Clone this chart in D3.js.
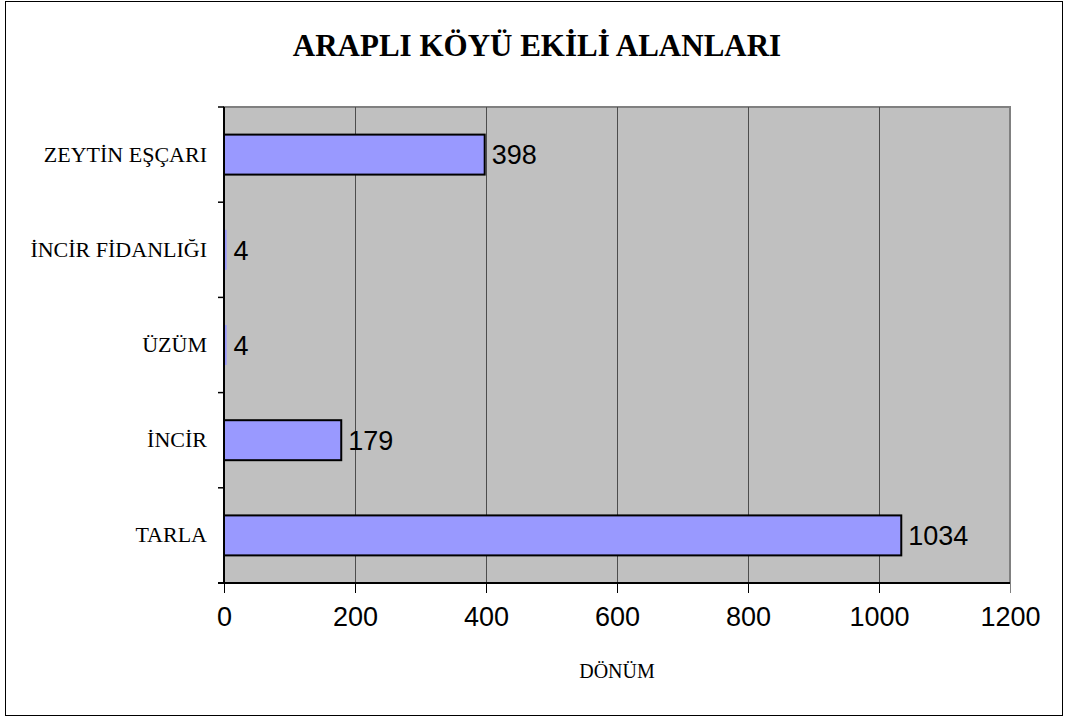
<!DOCTYPE html>
<html>
	<head>
		<meta charset="utf-8">
		<script src="https://d3js.org/d3.v7.min.js"></script>
		<style>
			body { margin: 0; background: #fff; }
		</style>
	</head>
	<body>
		<script>
			// veriler
			var categories = ["ZEYTİN EŞÇARI", "İNCİR FİDANLIĞI", "ÜZÜM", "İNCİR", "TARLA"];
			var values = [398, 4, 4, 179, 1034];
			var xTicks = [0, 200, 400, 600, 800, 1000, 1200];
			var title = "ARAPLI KÖYÜ EKİLİ ALANLARI";
			var xTitle = "DÖNÜM";

			var width = 1066, height = 717;
			var plot = { left: 224, top: 107, right: 1010, bottom: 583 };

			var svg = d3.select("body").append("svg")
				.attr("width", width)
				.attr("height", height);

			// dış çerçeve
			svg.append("rect")
				.attr("x", 5.5).attr("y", 1.5)
				.attr("width", 1057).attr("height", 714)
				.attr("fill", "#fff")
				.attr("stroke", "#000")
				.attr("stroke-width", 1);

			var x = d3.scaleLinear().domain([0, 1200]).range([plot.left, plot.right]);
			var y = d3.scaleBand().domain(categories).range([plot.top, plot.bottom]).paddingInner(0.58).paddingOuter(0.29);
			var yb = d3.scaleBand().domain(categories).range([plot.top, plot.bottom]);

			// çizim alanı
			svg.append("rect")
				.attr("x", plot.left).attr("y", plot.top)
				.attr("width", plot.right - plot.left).attr("height", plot.bottom - plot.top)
				.attr("fill", "#c0c0c0")
				.attr("stroke", "#808080")
				.attr("stroke-width", 2);

			// ızgara
			svg.append("g").selectAll("line")
				.data(xTicks.slice(1, -1))
				.join("line")
				.attr("x1", function(d){ return x(d) + 0.5; })
				.attr("x2", function(d){ return x(d) + 0.5; })
				.attr("y1", plot.top).attr("y2", plot.bottom)
				.attr("stroke", "#4d4d4d")
				.attr("stroke-width", 1);

			// çubuklar
			svg.append("g").selectAll("rect")
				.data(values)
				.join("rect")
				.attr("x", x(0))
				.attr("y", function(d, i){ return y(categories[i]); })
				.attr("width", function(d){ return x(d) - x(0); })
				.attr("height", y.bandwidth())
				.attr("fill", "#9999ff")
				.attr("stroke", function(d){ return x(d) - x(0) > 6 ? "#000" : "none"; })
				.attr("stroke-width", 2);

			// değer etiketleri
			svg.append("g").selectAll("text")
				.data(values)
				.join("text")
				.attr("x", function(d){ return x(d) + 7; })
				.attr("y", function(d, i){ return y(categories[i]) + y.bandwidth() / 2; })
				.attr("dy", "0.36em")
				.attr("font-family", "Liberation Sans, Arial, sans-serif")
				.attr("font-size", 27)
				.text(function(d){ return d; });

			// x ekseni
			var xAxis = svg.append("g")
				.attr("transform", "translate(0," + plot.bottom + ")")
				.call(d3.axisBottom(x).tickValues(xTicks).tickFormat(d3.format("d")).tickSize(10).tickPadding(14));
			xAxis.select(".domain").attr("stroke-width", 2).attr("d", "M" + (plot.left - 6) + ",0H" + plot.right);
			xAxis.selectAll(".tick line").attr("stroke", function(d){ return d === 1200 ? "#808080" : "#000"; });
			xAxis.selectAll("text")
				.attr("font-family", "Liberation Sans, Arial, sans-serif")
				.attr("font-size", 27)
				.attr("fill", "#000");

			// y ekseni
			var yAxis = svg.append("g")
				.attr("transform", "translate(" + plot.left + ",0)")
				.call(d3.axisLeft(yb).tickSize(0).tickPadding(17));
			yAxis.select(".domain").attr("stroke-width", 2).attr("d", "M0," + plot.top + "V" + plot.bottom);
			yAxis.selectAll("text")
				.attr("font-family", "Liberation Serif, Times New Roman, serif")
				.attr("font-size", 22)
				.attr("fill", "#000");

			// kategori sınır çizgileri
			var bounds = categories.map(function(c){ return yb(c); }).concat([plot.bottom]);
			svg.append("g").selectAll("line")
				.data(bounds)
				.join("line")
				.attr("x1", plot.left - 6).attr("x2", plot.left)
				.attr("y1", function(d){ return d; }).attr("y2", function(d){ return d; })
				.attr("stroke", "#000")
				.attr("stroke-width", 1.5);

			// başlıklar
			svg.append("text")
				.attr("x", 537).attr("y", 56)
				.attr("text-anchor", "middle")
				.attr("font-family", "Liberation Serif, Times New Roman, serif")
				.attr("font-weight", "bold")
				.attr("font-size", 31)
				.text(title);

			svg.append("text")
				.attr("x", (plot.left + plot.right) / 2).attr("y", 678)
				.attr("text-anchor", "middle")
				.attr("font-family", "Liberation Serif, Times New Roman, serif")
				.attr("font-size", 20)
				.text(xTitle);
		</script>
	</body>
</html>
